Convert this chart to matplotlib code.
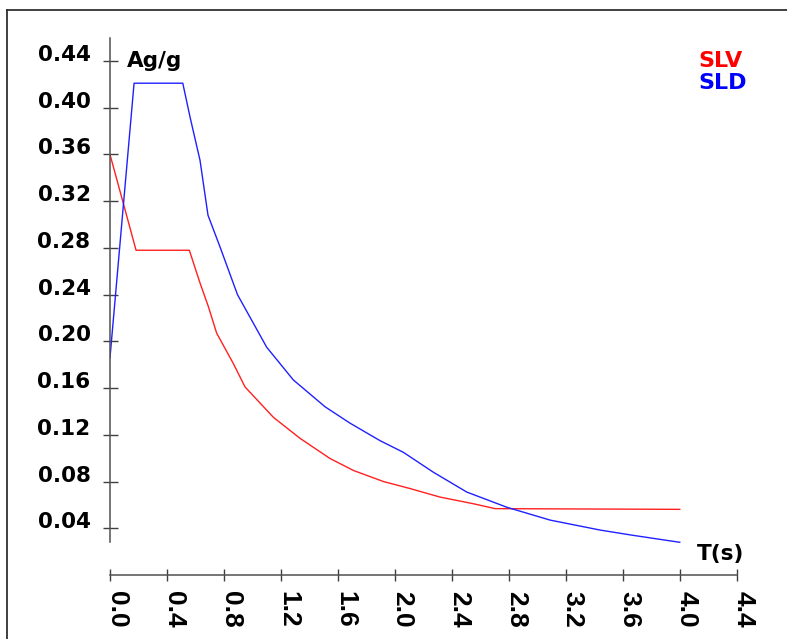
import matplotlib
matplotlib.use('Agg')
import matplotlib.pyplot as plt
from matplotlib.lines import Line2D
import numpy as np

# spectrum values
t_slv = [0.0, 0.183, 0.557, 0.632, 0.690, 0.749, 0.866, 0.948, 1.147, 1.334,
         1.545, 1.709, 1.920, 2.107, 2.317, 2.551, 2.704, 4.0]
a_slv = [0.360, 0.278, 0.278, 0.250, 0.230, 0.207, 0.181, 0.161, 0.135, 0.117,
         0.0997, 0.0895, 0.080, 0.074, 0.0667, 0.061, 0.0568, 0.0562]

t_sld = [0.0, 0.169, 0.511, 0.562, 0.632, 0.688, 0.772, 0.895, 1.100, 1.287,
         1.51, 1.685, 1.896, 2.06, 2.27, 2.505, 2.786, 3.09, 3.44, 3.67, 4.0]
a_sld = [0.186, 0.421, 0.421, 0.392, 0.355, 0.308, 0.281, 0.240, 0.195, 0.167,
         0.144, 0.130, 0.115, 0.105, 0.088, 0.071, 0.058, 0.047, 0.0385, 0.034, 0.028]

x_ticks = [0.0, 0.4, 0.8, 1.2, 1.6, 2.0, 2.4, 2.8, 3.2, 3.6, 4.0, 4.4]
y_ticks = [0.04, 0.08, 0.12, 0.16, 0.20, 0.24, 0.28, 0.32, 0.36, 0.40, 0.44]

W, H = 787, 639
fig = plt.figure(figsize=(W/100., H/100.), dpi=100)
fig.patch.set_facecolor('white')

# axes placed in pixels: x 0..4.4 -> 110..736.7, y 0 -> 575, 0.4597 -> 38
ax = fig.add_axes([110./W, 1-575./H, (736.7-110)/W, (575-38.)/H])
ax.set_xlim(0, 4.4)
ax.set_ylim(0, 0.4597)
ax.patch.set_alpha(0)

ax.plot(t_slv, a_slv, color='#ff2020', lw=1.0)
ax.plot(t_sld, a_sld, color='#2020ff', lw=1.0)

for s in ['top', 'right']:
    ax.spines[s].set_visible(False)
ax.spines['left'].set_bounds(0.028, 0.4597)
for s in ['left', 'bottom']:
    ax.spines[s].set_color('#505050')
    ax.spines[s].set_linewidth(1.1)

ax.set_xticks(x_ticks)
ax.set_xticklabels(['%.1f' % v for v in x_ticks])
ax.set_yticks(y_ticks)
ax.set_yticklabels(['%.2f' % v for v in y_ticks])

ax.tick_params(axis='y', direction='inout', length=10.8, width=1.0, color='#404040', pad=8.6)
ax.tick_params(axis='x', direction='inout', length=8.6, width=1.0, color='#404040', pad=7.0)

for lab in ax.get_yticklabels():
    lab.set_fontfamily('DejaVu Sans')
    lab.set_fontweight('bold')
    lab.set_fontsize(15.5)
    lab.set_va('baseline')
for lab in ax.get_xticklabels():
    lab.set_fontfamily('Liberation Sans')
    lab.set_fontweight('bold')
    lab.set_fontsize(19)
    lab.set(rotation=270, rotation_mode='anchor', ha='left', va='baseline')

ax.text(0.12, 0.435, 'Ag/g', fontsize=15.5, fontweight='bold', ha='left', va='baseline')
ax.text(4.12, 0.0125, 'T(s)', fontsize=15.5, fontweight='bold', ha='left', va='baseline')
ax.text(4.13, 0.4347, 'SLV', color='#ff0000', fontsize=16, fontweight='bold', ha='left', va='baseline')
ax.text(4.13, 0.4157, 'SLD', color='#0000ff', fontsize=16, fontweight='bold', ha='left', va='baseline')

# outer frame (only top and left edges show)
fig.add_artist(Line2D([7./W, 1], [1-10./H, 1-10./H], color='#303030', lw=1.3))
fig.add_artist(Line2D([7./W, 7./W], [0, 1-10./H], color='#303030', lw=1.3))

fig.savefig('out.png', dpi=100)
